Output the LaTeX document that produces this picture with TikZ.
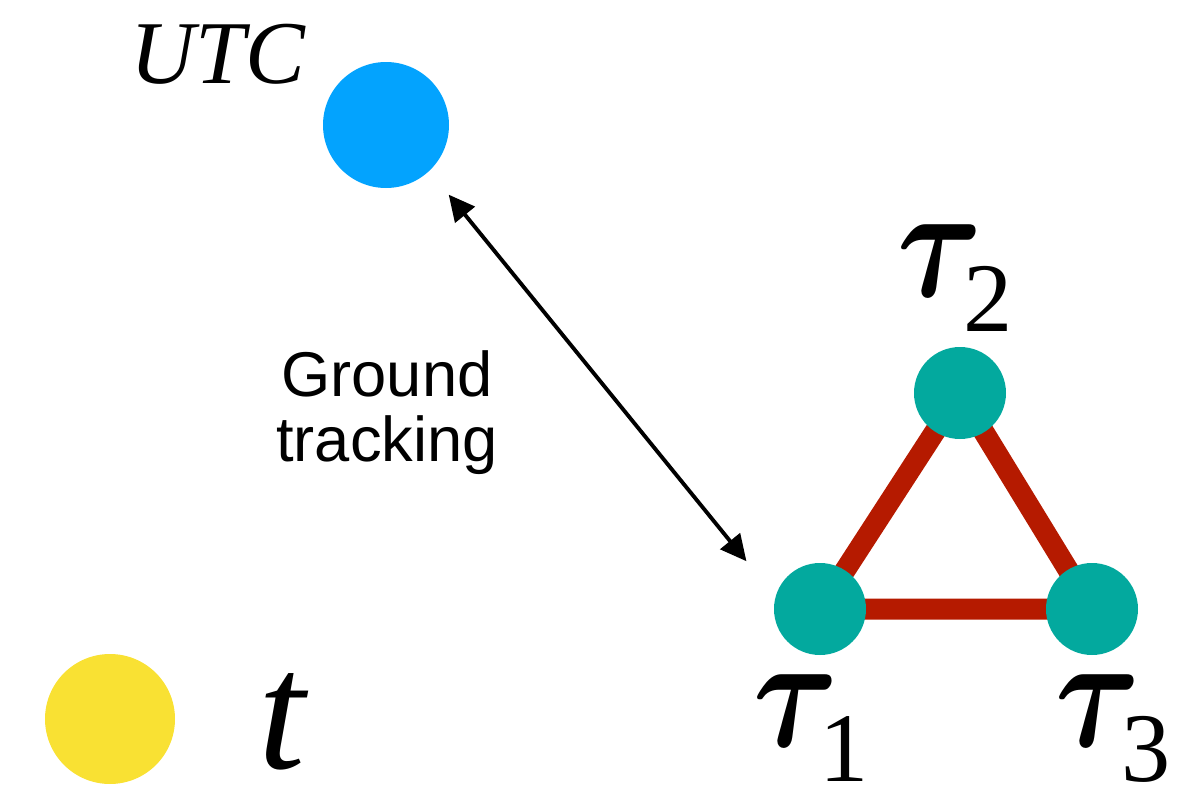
\documentclass[tikz,border=0pt]{standalone}
\usepackage{amsmath}
\usepackage{graphicx}
\usepackage{fontspec}
\setmainfont{Liberation Serif}
\newfontfamily\groundfont{Liberation Sans}
\usetikzlibrary{arrows.meta,backgrounds}

\definecolor{utcblue}{RGB}{3,163,254}
\definecolor{clockyellow}{RGB}{249,225,51}
\definecolor{clockteal}{RGB}{3,169,158}
\definecolor{linkred}{RGB}{181,26,0}

\newcommand{\taulabel}[1]{\scalebox{3.7}[4.6]{\fontsize{10}{12}\selectfont\(\boldsymbol{\tau}\)}\kern-0.12em\raisebox{-0.22em}{\fontsize{28}{28}\selectfont #1}}

\tikzset{
  clock/.style={circle, inner sep=0pt, draw=none},
  link/.style={linkred, line width=0.21cm},
  track/.style={{Triangle[length=0.26cm,width=0.25cm]}-{Triangle[length=0.26cm,width=0.25cm]}, line width=1.1pt},
  biglabel/.style={inner sep=0pt, anchor=base west, font=\fontsize{46}{46}\selectfont}
}

\begin{document}
\begin{tikzpicture}
  \useasboundingbox (0,0) rectangle (12,7.9);

  % clocks
  \node[clock, fill=utcblue, minimum size=1.26cm] (utc) at (3.86,6.65) {};
  \node[clock, fill=clockyellow, minimum size=1.30cm] (t) at (1.10,0.71) {};
  \node[clock, fill=clockteal, minimum size=0.92cm] (tau2) at (9.60,3.97) {};
  \node[clock, fill=clockteal, minimum size=0.92cm] (tau1) at (8.20,1.81) {};
  \node[clock, fill=clockteal, minimum size=0.92cm] (tau3) at (10.92,1.81) {};

  % links between the clocks
  \begin{pgfonlayer}{background}
    \draw[link] (tau1.center) -- (tau2.center) -- (tau3.center) -- (tau1.center);
  \end{pgfonlayer}

  % ground tracking
  \draw[track] ([shift={(-48:0.30)}]utc.-48) -- ([shift={(147:0.41)}]tau1.147);
  \node[align=center, inner sep=0pt, font=\groundfont\fontsize{18}{18.5}\selectfont] (gt) at (3.87,3.77) {Ground\\tracking};

  % labels
  \node[inner sep=0pt, anchor=base west, font=\fontsize{25.5}{25.5}\selectfont\itshape] (utclabel) at (1.30,7.07) {UTC};
  \node[biglabel, font=\fontsize{48}{48}\selectfont\itshape] (tlabel) at (2.58,0.22) {t};
  \node[biglabel] (tau1label) at (7.53,0.44) {\taulabel{1}};
  \node[biglabel] (tau2label) at (8.97,4.94) {\taulabel{2}};
  \node[biglabel] (tau3label) at (10.55,0.44) {\taulabel{3}};
\end{tikzpicture}
\end{document}
